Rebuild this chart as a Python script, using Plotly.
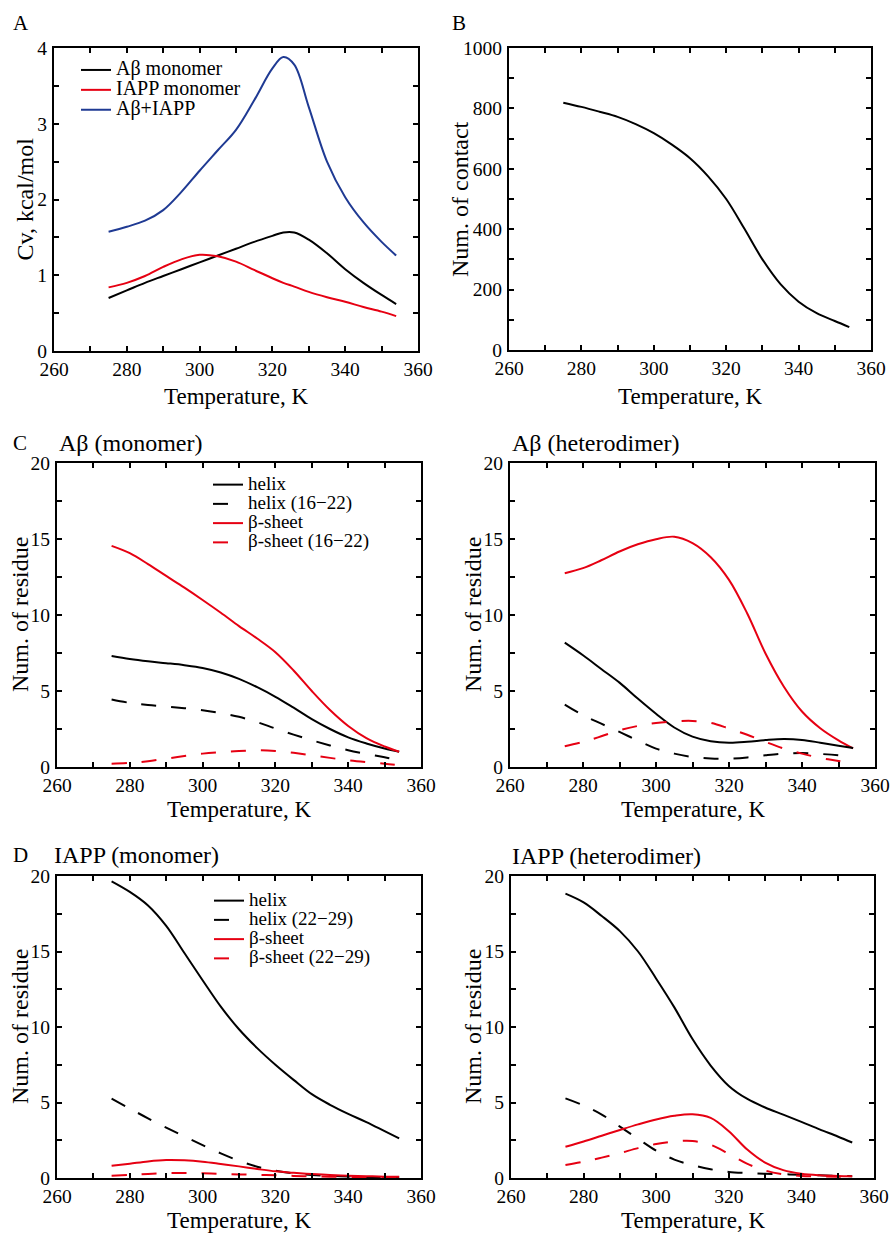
import plotly.graph_objects as go

FONT = "Liberation Serif, Times New Roman, serif"
W, H = 896, 1233

# ---------------- data ----------------
# Panel A: heat capacity (kcal/mol)
T_A = [275, 280, 285, 290, 295, 300, 305, 310, 315, 320, 323, 326, 330, 335, 340, 345, 350, 354]
cv_ab = [0.70, 0.80, 0.90, 0.99, 1.08, 1.17, 1.26, 1.35, 1.44, 1.52, 1.565, 1.565, 1.47, 1.29, 1.08, 0.90, 0.74, 0.62]
cv_iapp = [0.84, 0.90, 0.99, 1.11, 1.21, 1.27, 1.25, 1.18, 1.07, 0.96, 0.90, 0.85, 0.78, 0.71, 0.65, 0.58, 0.52, 0.46]
cv_both = [1.575, 1.64, 1.72, 1.86, 2.10, 2.38, 2.65, 2.92, 3.31, 3.73, 3.88, 3.78, 3.22, 2.50, 2.03, 1.70, 1.44, 1.26]

# Common temperature grid for the other panels (K)
T = [275, 280, 285, 290, 295, 300, 305, 310, 315, 320, 325, 330, 335, 340, 345, 350, 354]

# Panel B: number of contacts
contacts = [819, 805, 789, 772, 748, 718, 680, 635, 575, 500, 402, 300, 218, 160, 122, 96, 76]

# Panel C left: Abeta monomer
abm_helix = [7.30, 7.10, 6.95, 6.83, 6.70, 6.52, 6.22, 5.80, 5.25, 4.62, 3.90, 3.15, 2.50, 1.95, 1.55, 1.22, 1.00]
abm_helix_seg = [4.44, 4.22, 4.08, 3.98, 3.87, 3.74, 3.55, 3.30, 2.95, 2.53, 2.13, 1.76, 1.42, 1.10, 0.86, 0.64, 0.44]
abm_sheet = [14.55, 14.07, 13.35, 12.57, 11.80, 10.99, 10.15, 9.27, 8.45, 7.55, 6.35, 5.00, 3.75, 2.70, 1.90, 1.35, 1.00]
abm_sheet_seg = [0.22, 0.27, 0.38, 0.55, 0.72, 0.88, 0.98, 1.05, 1.10, 1.05, 0.93, 0.77, 0.60, 0.44, 0.32, 0.22, 0.11]

# Panel C right: Abeta heterodimer
abh_helix = [8.18, 7.35, 6.45, 5.55, 4.50, 3.50, 2.60, 2.00, 1.70, 1.60, 1.66, 1.77, 1.84, 1.78, 1.60, 1.40, 1.25]
abh_helix_seg = [4.11, 3.41, 2.85, 2.31, 1.74, 1.21, 0.88, 0.66, 0.56, 0.55, 0.63, 0.77, 0.88, 0.92, 0.86, 0.77, 0.66]
abh_sheet = [12.75, 13.08, 13.60, 14.18, 14.65, 14.99, 15.15, 14.73, 13.80, 12.31, 10.10, 7.47, 5.30, 3.65, 2.55, 1.75, 1.22]
abh_sheet_seg = [1.36, 1.65, 2.02, 2.42, 2.70, 2.90, 3.00, 3.03, 2.90, 2.53, 2.12, 1.65, 1.22, 0.88, 0.60, 0.40, 0.22]

# Panel D left: IAPP monomer
iam_helix = [19.65, 18.95, 18.05, 16.70, 14.90, 13.10, 11.35, 9.85, 8.60, 7.50, 6.50, 5.55, 4.85, 4.25, 3.70, 3.10, 2.62]
iam_helix_seg = [5.25, 4.60, 3.95, 3.34, 2.75, 2.18, 1.63, 1.14, 0.75, 0.48, 0.30, 0.20, 0.14, 0.10, 0.07, 0.05, 0.05]
iam_sheet = [0.81, 0.95, 1.10, 1.19, 1.17, 1.08, 0.93, 0.77, 0.60, 0.44, 0.34, 0.26, 0.20, 0.15, 0.12, 0.09, 0.08]
iam_sheet_seg = [0.15, 0.20, 0.27, 0.33, 0.33, 0.31, 0.28, 0.24, 0.21, 0.18, 0.14, 0.11, 0.09, 0.07, 0.06, 0.05, 0.05]

# Panel D right: IAPP heterodimer
iah_helix = [18.83, 18.25, 17.35, 16.35, 15.00, 13.20, 11.30, 9.20, 7.45, 6.10, 5.25, 4.67, 4.20, 3.72, 3.22, 2.75, 2.35]
iah_helix_seg = [5.27, 4.80, 4.20, 3.40, 2.60, 1.81, 1.22, 0.85, 0.58, 0.40, 0.33, 0.28, 0.25, 0.22, 0.18, 0.14, 0.12]
iah_sheet = [2.07, 2.42, 2.80, 3.18, 3.55, 3.88, 4.12, 4.22, 3.98, 3.10, 1.90, 1.02, 0.52, 0.28, 0.18, 0.14, 0.12]
iah_sheet_seg = [0.86, 1.08, 1.35, 1.65, 1.98, 2.25, 2.42, 2.45, 2.20, 1.60, 0.95, 0.50, 0.25, 0.14, 0.10, 0.08, 0.07]

x_ticks = [260, 280, 300, 320, 340, 360]

# ---------------- styles ----------------
BLACK = "#000000"
RED = "#e60012"
BLUE = "#1f3a93"
LW = 2


def px_x(p):
    return p / W


def px_y(p):
    return 1 - p / H


def leg_name(s, size):
    return '<span style="font-size:%spx">%s</span>' % (size, s)


fig = go.Figure()


def add(xa, ya, xs, y, color, dash, name=None, legend=None, size=20):
    fig.add_trace(go.Scatter(
        x=xs, y=y, mode="lines", xaxis=xa, yaxis=ya,
        line=dict(color=color, width=LW, dash=dash, shape="spline", smoothing=1.0),
        name=leg_name(name, size) if name else "",
        showlegend=bool(name), legend=legend if legend else "legend",
        hoverinfo="skip",
    ))


# Panel A
add("x", "y", T_A, cv_ab, BLACK, "solid", "Aβ monomer", "legend")
add("x", "y", T_A, cv_iapp, RED, "solid", "IAPP monomer", "legend")
add("x", "y", T_A, cv_both, BLUE, "solid", "Aβ+IAPP", "legend")
# Panel B
add("x2", "y2", T, contacts, BLACK, "solid")
# Panel C
add("x3", "y3", T, abm_helix, BLACK, "solid", "helix", "legend2", 19)
add("x3", "y3", T, abm_helix_seg, BLACK, "longdash", "helix (16−22)", "legend2", 19)
add("x3", "y3", T, abm_sheet, RED, "solid", "β-sheet", "legend2", 19)
add("x3", "y3", T, abm_sheet_seg, RED, "longdash", "β-sheet (16−22)", "legend2", 19)
add("x4", "y4", T, abh_sheet, RED, "solid")
add("x4", "y4", T, abh_helix, BLACK, "solid")
add("x4", "y4", T, abh_helix_seg, BLACK, "longdash")
add("x4", "y4", T, abh_sheet_seg, RED, "longdash")
# Panel D
add("x5", "y5", T, iam_helix, BLACK, "solid", "helix", "legend3", 19)
add("x5", "y5", T, iam_helix_seg, BLACK, "longdash", "helix (22−29)", "legend3", 19)
add("x5", "y5", T, iam_sheet, RED, "solid", "β-sheet", "legend3", 19)
add("x5", "y5", T, iam_sheet_seg, RED, "longdash", "β-sheet (22−29)", "legend3", 19)
add("x6", "y6", T, iah_helix, BLACK, "solid")
add("x6", "y6", T, iah_helix_seg, BLACK, "longdash")
add("x6", "y6", T, iah_sheet, RED, "solid")
add("x6", "y6", T, iah_sheet_seg, RED, "longdash")

# ---------------- axes ----------------
# (left, right, top, bottom) of every plot box, in pixels
boxes = {
    1: (54, 418, 48, 351),
    2: (509, 871, 48, 350),
    3: (57, 421, 463, 767),
    4: (510, 875, 463, 767),
    5: (57, 421, 876, 1178),
    6: (511, 874, 876, 1178),
}
yinfo = {
    1: ([0, 4], 1, 0.5, "Cv, kcal/mol", 25),
    2: ([0, 1000], 200, 100, "Num. of contact", 460),
    3: ([0, 20], 5, 2.5, "Num. of residue", 20),
    4: ([0, 20], 5, 2.5, "Num. of residue", 473),
    5: ([0, 20], 5, 2.5, "Num. of residue", 20),
    6: ([0, 20], 5, 2.5, "Num. of residue", 473),
}
# vertical centre of the x-axis title, in pixels
xtitle_y = {1: 397, 2: 397, 3: 809, 4: 809, 5: 1220, 6: 1220}

tickfont = dict(family=FONT, size=19.5, color="black")
titlefont = dict(family=FONT, size=23, color="black")
ytitlefont = dict(family=FONT, size=24, color="black")

layout = dict(
    width=W, height=H, autosize=False,
    margin=dict(l=0, r=0, t=0, b=0, pad=0, autoexpand=False),
    paper_bgcolor="white", plot_bgcolor="white",
    font=dict(family=FONT, color="black"),
    annotations=[],
)

for i, (x0, x1, y0, y1) in boxes.items():
    sx = "" if i == 1 else str(i)
    yr, ydt, ymdt, ytitle, ytx = yinfo[i]
    common = dict(
        showline=True, linecolor="black", linewidth=2, mirror="ticks",
        ticks="inside", ticklen=5, tickwidth=1.5, tickcolor="black",
        showgrid=False, zeroline=False, tickfont=tickfont, automargin=False,
    )
    layout["xaxis" + sx] = dict(
        domain=[px_x(x0), px_x(x1)], anchor="y" + sx, range=[260, 360],
        tickmode="array", tickvals=x_ticks,
        minor=dict(dtick=10, tick0=260, ticks="inside", ticklen=5, tickwidth=1.5, tickcolor="black"),
        **common,
    )
    layout["yaxis" + sx] = dict(
        domain=[px_y(y1), px_y(y0)], anchor="x" + sx, range=yr,
        tick0=0, dtick=ydt,
        minor=dict(dtick=ymdt, tick0=0, ticks="inside", ticklen=5, tickwidth=1.5, tickcolor="black"),
        ticklabelstandoff=1,
        **common,
    )
    # y-axis title beside the tick labels
    layout["annotations"].append(dict(
        text=ytitle, xref="paper", yref="paper",
        x=px_x(ytx), y=px_y((y0 + y1) / 2), xanchor="center", yanchor="middle",
        textangle=-90, showarrow=False, font=ytitlefont,
    ))
    # x-axis title under the tick labels
    layout["annotations"].append(dict(
        text="Temperature, K", xref="paper", yref="paper",
        x=px_x((x0 + x1) / 2), y=px_y(xtitle_y[i]), xanchor="center", yanchor="middle",
        showarrow=False, font=titlefont,
    ))

# legends
layout["legend"] = dict(
    x=px_x(76), y=px_y(55), xanchor="left", yanchor="top",
    bgcolor="rgba(0,0,0,0)", borderwidth=0,
    font=dict(family=FONT, size=13, color="black"), tracegroupgap=0,
)
layout["legend2"] = dict(
    x=px_x(208), y=px_y(470), xanchor="left", yanchor="top",
    bgcolor="rgba(0,0,0,0)", borderwidth=0,
    font=dict(family=FONT, size=12.5, color="black"), tracegroupgap=0,
)
layout["legend3"] = dict(
    x=px_x(209), y=px_y(886), xanchor="left", yanchor="top",
    bgcolor="rgba(0,0,0,0)", borderwidth=0,
    font=dict(family=FONT, size=12.5, color="black"), tracegroupgap=0,
)

# panel labels and subtitles
labels = [
    ("A", 11, 23), ("B", 450, 23), ("C", 11, 443), ("D", 11, 855),
]
for txt, xx, yy in labels:
    layout["annotations"].append(dict(
        text=txt, xref="paper", yref="paper", x=px_x(xx), y=px_y(yy),
        xanchor="left", yanchor="middle", showarrow=False,
        font=dict(family=FONT, size=21, color="black"),
    ))
subs = [
    ("Aβ (monomer)", 57, 443), ("Aβ (heterodimer)", 510, 443),
    ("IAPP (monomer)", 52, 855), ("IAPP (heterodimer)", 510, 856),
]
for txt, xx, yy in subs:
    layout["annotations"].append(dict(
        text=txt, xref="paper", yref="paper", x=px_x(xx), y=px_y(yy),
        xanchor="left", yanchor="middle", showarrow=False,
        font=dict(family=FONT, size=24, color="black"),
    ))

fig.update_layout(**layout)
fig.write_html("out.html")
